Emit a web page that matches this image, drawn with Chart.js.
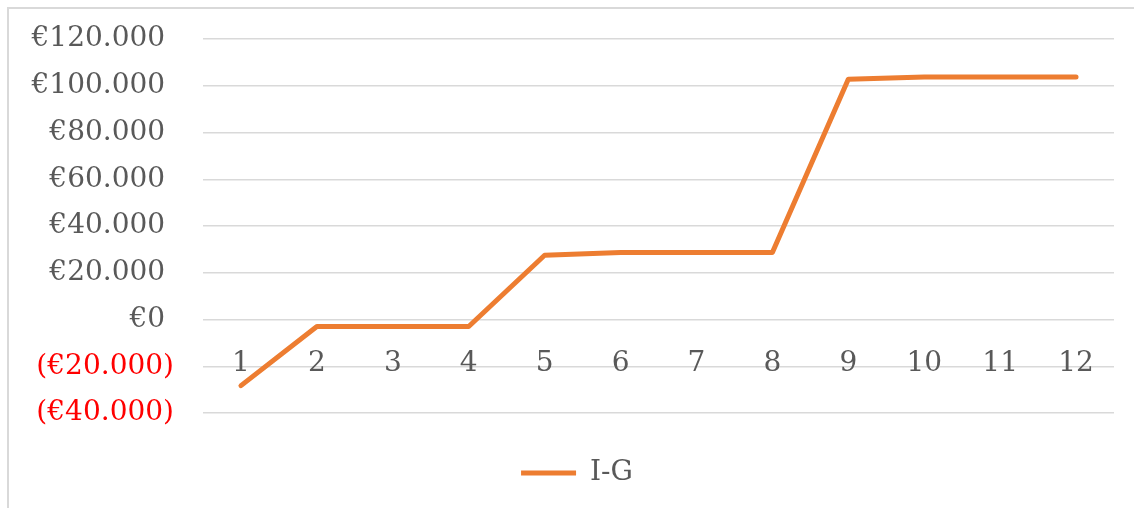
<!DOCTYPE html>
<html>
<head>
<meta charset="utf-8">
<script src="https://cdn.jsdelivr.net/npm/chart.js@4/dist/chart.umd.min.js"></script>
<style>
  html, body { margin: 0; padding: 0; background: #ffffff; }
  #wrap { width: 1134px; height: 508px; position: relative; }
</style>
</head>
<body>
<div id="wrap"><canvas id="c" width="1134" height="508"></canvas></div>
<script>
const categories = ['1','2','3','4','5','6','7','8','9','10','11','12'];
const seriesName = 'I-G';
const seriesValues = [-28300, -3000, -3000, -3000, 27500, 28700, 28700, 28700, 102800, 103700, 103700, 103700];
const yMin = -40000;
const yMax = 120000;
const yStep = 20000;

function fmtEuro(v) {
  const s = String(Math.abs(v)).replace(/\B(?=(\d{3})+(?!\d))/g, '.');
  return v < 0 ? '(\u20AC' + s + ')' : '\u20AC' + s + '\u2008';
}

Chart.defaults.font.family = "'DejaVu Serif', 'Liberation Serif', serif";

const framePlugin = {
  id: 'frame',
  beforeDraw(chart) {
    const ctx = chart.ctx;
    ctx.save();
    ctx.strokeStyle = '#d9d9d9';
    ctx.lineWidth = 2;
    ctx.beginPath();
    ctx.moveTo(8, 508);
    ctx.lineTo(8, 8);
    ctx.lineTo(1134, 8);
    ctx.stroke();
    ctx.restore();
  }
};

function makeBox(position, fullSize, size) {
  const horiz = position === 'top' || position === 'bottom';
  return {
    position: position,
    weight: 0,
    fullSize: fullSize,
    options: {},
    width: 0,
    height: 0,
    top: 0, bottom: 0, left: 0, right: 0,
    isHorizontal() { return horiz; },
    update(w, h) {
      if (horiz) { this.width = w; this.height = size; }
      else { this.width = size; this.height = h; }
    },
    draw() {}
  };
}

const spacerPlugin = {
  id: 'spacer',
  beforeInit(chart) {
    Chart.layouts.addBox(chart, makeBox('bottom', true, 36));
    Chart.layouts.addBox(chart, makeBox('right', false, 20));
  }
};

new Chart(document.getElementById('c'), {
  type: 'line',
  data: {
    labels: categories,
    datasets: [{
      label: seriesName,
      data: seriesValues,
      borderColor: '#ED7D31',
      backgroundColor: '#ED7D31',
      borderWidth: 5,
      borderCapStyle: 'round',
      borderJoinStyle: 'round',
      pointRadius: 0,
      pointHoverRadius: 0,
      tension: 0,
      fill: false
    }]
  },
  options: {
    responsive: false,
    animation: false,
    layout: { padding: { top: 39, right: 0, bottom: 11, left: 20 } },
    plugins: {
      tooltip: { enabled: false },
      legend: {
        position: 'bottom',
        labels: {
          usePointStyle: true,
          pointStyle: 'line',
          pointStyleWidth: 55,
          color: '#595959',
          font: { size: 28 },
          padding: 10
        }
      }
    },
    scales: {
      x: {
        type: 'category',
        offset: true,
        position: { y: 0 },
        grid: { display: false, drawTicks: false },
        border: { display: false },
        ticks: {
          color: '#595959',
          font: { size: 28 },
          padding: 27,
          maxRotation: 0,
          autoSkip: false
        }
      },
      y: {
        min: yMin,
        max: yMax,
        afterFit(scale) {
          scale.width = 183;
          scale.paddingTop = 0;
          scale.paddingBottom = 0;
        },
        grid: { color: '#d9d9d9', lineWidth: 1.5, drawTicks: false },
        border: { display: false },
        ticks: {
          stepSize: yStep,
          padding: 29,
          font: { size: 28 },
          color: (ctx) => (ctx.tick && ctx.tick.value < 0) ? '#FF0000' : '#595959',
          callback: (v) => fmtEuro(v)
        }
      }
    }
  },
  plugins: [framePlugin, spacerPlugin]
});
</script>
</body>
</html>
